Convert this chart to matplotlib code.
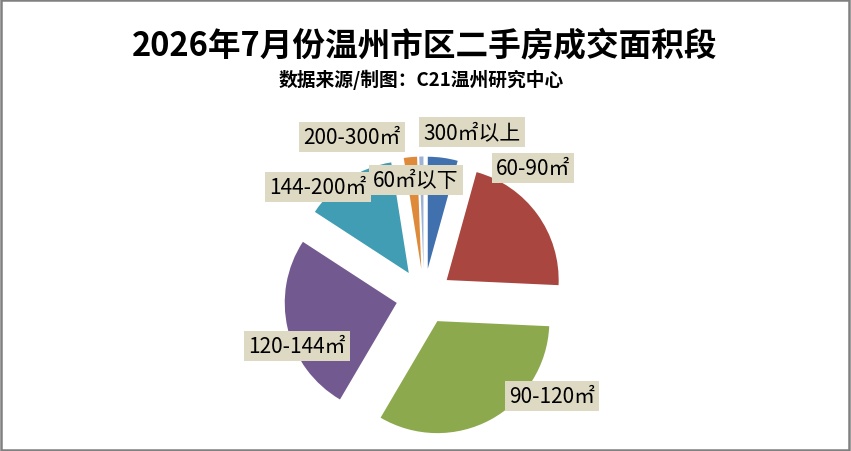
import matplotlib
matplotlib.use("Agg")
import matplotlib.pyplot as plt
from matplotlib.patches import Rectangle

plt.rcParams['font.family'] = ['Noto Sans CJK SC', 'DejaVu Sans']

# Data
categories = ["60㎡以下", "60-90㎡", "90-120㎡", "120-144㎡", "144-200㎡", "200-300㎡", "300㎡以上"]
shares = [4.3, 21.4, 32.7, 25.7, 13.3, 1.9, 0.6]
colors = ["#4170AF", "#A8463F", "#8CAA4D", "#72598F", "#419DB3", "#DE8A3A", "#9DB3D6"]

title = "2026年7月份温州市区二手房成交面积段"
subtitle = "数据来源/制图：C21温州研究中心"

# label centers in pixel coordinates (x from left, y from top)
label_pos = [(416, 181), (533, 169), (552, 397), (297, 347), (318, 188), (352, 138), (472, 133)]

W, H = 851, 452
fig = plt.figure(figsize=(W / 100, H / 100), dpi=100)

# pie axes: center at (424, 297.5) px from top, radius 112 px
cx, cy, R = 424, 297.5, 112
side = 300
ax = fig.add_axes([(cx - side / 2) / W, (H - cy - side / 2) / H, side / W, side / H])

ax.pie(shares, colors=colors, startangle=90, counterclock=False,
       explode=[0.25] * len(shares), radius=1,
       wedgeprops=dict(linewidth=0))
L = (side / 2) / R
ax.set_xlim(-L, L)
ax.set_ylim(-L, L)
ax.set_aspect('equal')
ax.axis('off')

for lab, (px, py) in zip(categories, label_pos):
    fig.text(px / W, 1 - py / H, lab, ha='center', va='center', fontsize=15,
             color='black',
             bbox=dict(boxstyle='square,pad=0.2', facecolor='#DDD9C3', edgecolor='none'))

fig.text(425 / W, 1 - 47 / H, title, ha='center', va='center', fontsize=23.5,
         fontweight='bold', color='black')
fig.text(421 / W, 1 - 80 / H, subtitle, ha='center', va='center', fontsize=13.5,
         fontweight='bold', color='black')

# outer border
fig.patches.append(Rectangle((0.001, 0.002), 0.997, 0.995, transform=fig.transFigure,
                             fill=False, edgecolor='#808080', linewidth=1.8))

fig.savefig("out.png", dpi=100, facecolor='white')
